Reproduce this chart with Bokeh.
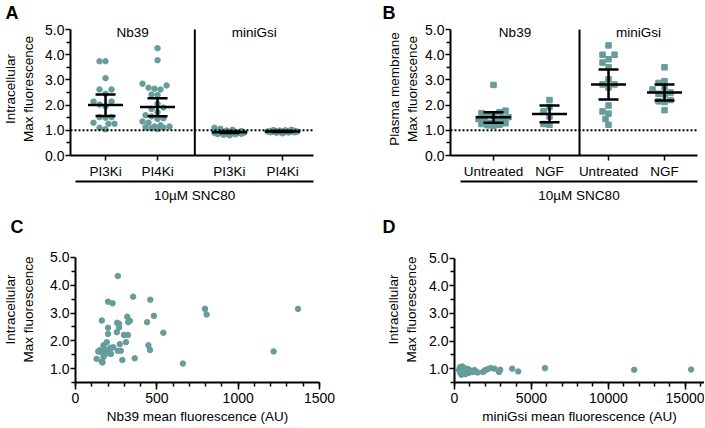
from bokeh.plotting import figure
from bokeh.models import (Range1d, FixedTicker, LinearAxis, Span, Label,
                          CustomJSTickFormatter, PrintfTickFormatter)
from bokeh.layouts import column, row
from bokeh.embed import file_html
from bokeh.resources import INLINE

FONT = "Liberation Sans"
DOT = "#669d9b"

# ---------------- data ----------------
# Panel A: intracellular max fluorescence
a_groups = ["Nb39", "miniGsi"]
a_cats = ["PI3Ki", "PI4Ki", "PI3Ki", "PI4Ki"]
a_nb39_pi3k = [3.74, 3.74, 3.07, 2.62, 2.62, 2.45, 2.14, 2.14, 2.02, 1.95, 1.52, 1.52,
               1.50, 1.30, 1.26, 1.26, 1.10, 1.04]
a_nb39_pi4k = [4.26, 3.78, 2.85, 2.78, 2.69, 2.65, 2.62, 2.42, 2.40, 2.05, 1.90, 1.85,
               1.72, 1.60, 1.55, 1.48, 1.45, 1.35, 1.30, 1.20, 1.15, 1.15, 1.12, 1.10,
               1.08, 1.05]
a_mini_pi3k = [1.10, 1.06, 1.02, 0.99, 0.97, 0.95, 0.94, 0.93, 0.92, 0.91, 0.90, 0.90,
               0.89, 0.88, 0.87, 0.86, 0.85, 0.84, 0.82, 0.80]
a_mini_pi4k = [1.02, 1.01, 1.00, 0.99, 0.98, 0.97, 0.97, 0.96, 0.96, 0.95, 0.95, 0.94,
               0.94, 0.93, 0.93, 0.92, 0.92, 0.91, 0.90, 0.88]
a_mean = [2.00, 1.92, 0.92, 0.95]
a_lo = [1.57, 1.56, 0.89, 0.93]
a_hi = [2.42, 2.27, 0.95, 0.97]

# Panel B: plasma membrane max fluorescence
b_groups = ["Nb39", "miniGsi"]
b_cats = ["Untreated", "NGF", "Untreated", "NGF"]
b_nb39_unt = [2.80, 1.78, 1.72, 1.68, 1.62, 1.58, 1.52, 1.50, 1.45, 1.42, 1.35, 1.30,
              1.28, 1.25, 1.22, 1.20, 1.18]
b_nb39_ngf = [2.20, 1.92, 1.75, 1.55, 1.25, 1.22]
b_mini_unt = [4.37, 4.00, 4.00, 3.82, 3.69, 3.50, 3.02, 2.82, 2.82, 2.70, 1.98, 1.75,
              1.66, 1.45, 1.22]
b_mini_ngf = [3.50, 2.95, 2.88, 2.70, 2.62, 2.50, 2.45, 2.42, 2.20, 2.15, 2.12, 1.80]
b_mean = [1.52, 1.65, 2.82, 2.50]
b_lo = [1.30, 1.32, 2.22, 2.18]
b_hi = [1.72, 1.98, 3.41, 2.82]

treatment = "10\u00b5M SNC80"

# Panel C: Nb39 mean fluorescence vs intracellular max
c_x = [260, 200, 228, 354, 460, 162, 318, 334, 324, 440, 482, 256, 268, 268, 200, 254,
       200, 298, 322, 540, 192, 310, 272, 172, 448, 214, 232, 458, 180, 154, 182, 212,
       260, 278, 218, 172, 130, 162, 288, 364, 166, 660, 796, 806, 1368, 1218, 150, 140,
       196]
c_y = [4.33, 3.41, 3.35, 3.59, 3.48, 2.73, 2.87, 2.72, 2.67, 2.67, 2.90, 2.65, 2.61,
       2.48, 2.47, 2.31, 2.25, 2.21, 2.21, 2.29, 1.95, 1.95, 1.88, 1.84, 1.84, 1.75,
       1.77, 1.67, 1.70, 1.60, 1.59, 1.62, 1.64, 1.64, 1.53, 1.42, 1.35, 1.25, 1.31,
       1.37, 1.22, 1.18, 3.15, 2.95, 3.15, 1.62, 1.66, 1.62, 1.55]

# Panel D: miniGsi mean fluorescence vs intracellular max
d_x = [300, 350, 380, 420, 450, 480, 500, 520, 560, 600, 620, 650, 700, 720, 760, 800,
       850, 900, 950, 1000, 1100, 1200, 1300, 1400, 1500, 1850, 1980, 2130, 2350, 2600,
       2890, 2970, 3750, 4140, 5880, 11680, 15380]
d_y = [0.95, 1.05, 0.85, 1.00, 0.78, 0.92, 1.08, 0.88, 0.97, 0.83, 1.02, 0.90, 0.95,
       0.80, 1.00, 0.87, 0.93, 0.98, 0.85, 0.90, 0.92, 0.88, 0.95, 0.90, 0.86, 0.88,
       0.94, 0.98, 1.02, 1.00, 0.88, 0.96, 1.00, 0.90, 1.02, 0.96, 0.97]


# ---------------- helpers ----------------
def swarm(vals, xpx, ypx, d=6.0, wmax=17.0):
    n = int(wmax // (d / 2))
    cands = sorted([j * d / 2 for j in range(-n, n + 1)], key=lambda c: (abs(c), c))
    placed = []
    offs = [0.0] * len(vals)
    for i in sorted(range(len(vals)), key=lambda k: vals[k]):
        py = vals[i] * ypx
        best, bestd = None, -1
        for c in cands:
            md = min([((c - qx) ** 2 + (py - qy) ** 2) ** 0.5 for qx, qy in placed] or [1e9])
            if md >= d:
                best = c
                break
            if md > bestd:
                bestd, best = md, c
        placed.append((best, py))
        offs[i] = best / xpx
    return offs


def base_fig(w, h, xr, yr, ml, mr, mt, mb, let, let_dx):
    p = figure(width=w, height=h, x_range=xr, y_range=yr, output_backend="svg",
               toolbar_location=None, min_border_left=ml, min_border_right=mr,
               min_border_top=mt, min_border_bottom=mb)
    p.outline_line_color = None
    p.xgrid.visible = False
    p.ygrid.visible = False
    p.background_fill_color = "white"
    p.border_fill_color = "white"
    # panel letter as the figure title (side panels are not clipped)
    p.title.text = let
    p.title.align = "left"
    p.title.vertical_align = "bottom"
    p.title.offset = let_dx
    p.title.standoff = 0
    p.title.text_font = FONT
    p.title.text_font_size = "18px"
    p.title.text_font_style = "bold"
    p.title.text_color = "black"
    return p


def style_axis(ax, tick_size="14px"):
    ax.axis_line_width = 2
    ax.axis_line_color = "black"
    ax.major_tick_line_width = 1.5
    ax.minor_tick_line_width = 1.5
    ax.major_tick_line_color = "black"
    ax.minor_tick_line_color = "black"
    ax.major_tick_in = 0
    ax.minor_tick_in = 0
    ax.major_label_text_font = FONT
    ax.major_label_text_font_size = tick_size
    ax.major_label_text_color = "black"
    ax.axis_label_text_font = FONT
    ax.axis_label_text_font_style = "normal"
    ax.axis_label_text_font_size = "13.5px"
    ax.axis_label_text_color = "black"


def category_panel(w, h, ml, mr, mt, mb, xr, ytop, pos, divider, cats, groups, series,
                   means, los, his, ylabel, ylab_standoff, marker, glo, ghi, let, let_dx):
    p = base_fig(w, h, xr, Range1d(0, ytop), ml, mr, mt, mb, let, let_dx)
    fw = w - ml - mr
    fh = h - mt - mb
    xpx = fw / (xr.end - xr.start)
    ypx = fh / ytop
    # y axis (line stops at 5.0)
    ya = p.yaxis[0]
    style_axis(ya)
    ya.bounds = (0, 5.0)
    ya.ticker = FixedTicker(ticks=[0, 1, 2, 3, 4, 5],
                            minor_ticks=[0.5, 1.5, 2.5, 3.5, 4.5])
    ya.formatter = PrintfTickFormatter(format="%.1f")
    ya.major_tick_out = 5
    ya.minor_tick_out = 4
    ya.major_label_standoff = 1
    ya.axis_label = ylabel
    ya.axis_label_standoff = ylab_standoff
    # x axis with category labels
    xa = p.xaxis[0]
    style_axis(xa, "13.5px")
    xa.ticker = FixedTicker(ticks=pos)
    xa.major_label_overrides = {pos[i]: cats[i] for i in range(len(pos))}
    xa.major_tick_out = 5
    xa.minor_tick_line_color = None
    xa.major_label_standoff = 3
    # group line + treatment label
    gmid = (glo + ghi) / 2
    ga = LinearAxis(ticker=FixedTicker(ticks=[gmid]),
                    formatter=CustomJSTickFormatter(code="return '%s'" % treatment),
                    bounds=(glo, ghi))
    style_axis(ga, "13.5px")
    ga.major_tick_line_color = None
    ga.minor_tick_line_color = None
    ga.major_label_standoff = 0
    p.add_layout(ga, "below")
    # reference lines
    p.add_layout(Span(location=1.0, dimension="width", line_color="black",
                      line_width=2, line_dash="2 2"))
    p.segment(x0=[divider], y0=[0], x1=[divider], y1=[5.0], line_color="black",
              line_width=2)
    # points
    for i, vals in enumerate(series):
        offs = swarm(vals, xpx, ypx)
        xs = [pos[i] + o for o in offs]
        p.scatter(xs, vals, marker=marker, size=5.5, fill_color=DOT, line_color=DOT)
    # mean + error bars
    mh = 17.5 / xpx
    ch = 10.0 / xpx
    x0, y0, x1, y1 = [], [], [], []
    for i in range(len(pos)):
        x0 += [pos[i] - mh, pos[i] - ch, pos[i] - ch, pos[i]]
        x1 += [pos[i] + mh, pos[i] + ch, pos[i] + ch, pos[i]]
        y0 += [means[i], los[i], his[i], los[i]]
        y1 += [means[i], los[i], his[i], his[i]]
    p.segment(x0=x0, y0=y0, x1=x1, y1=y1, line_color="black", line_width=2.5)
    # group titles (centred over each section, inside the frame)
    mids = [(xr.start + divider) / 2, (divider + xr.end) / 2]
    for g, m in zip(groups, mids):
        p.add_layout(Label(x=m, y=5.0, y_offset=-2.5, text=g, text_font=FONT,
                           text_font_size="13.5px", text_align="center",
                           text_baseline="alphabetic", text_color="black"))
    return p


def scatter_panel(w, h, ml, mr, mt, mb, xr, ytop, xticks, xminor, xs, ys, xlabel,
                  ylab_standoff, let, let_dx):
    p = base_fig(w, h, xr, Range1d(0.5, ytop), ml, mr, mt, mb, let, let_dx)
    ya = p.yaxis[0]
    style_axis(ya)
    ya.bounds = (0.5, 5.0)
    ya.ticker = FixedTicker(ticks=[1, 2, 3, 4, 5],
                            minor_ticks=[0.5, 1.5, 2.5, 3.5, 4.5])
    ya.formatter = PrintfTickFormatter(format="%.1f")
    ya.major_tick_out = 5
    ya.minor_tick_out = 4
    ya.major_label_standoff = 1
    ya.axis_label = "Intracellular\nMax fluorescence"
    ya.axis_label_standoff = ylab_standoff
    xa = p.xaxis[0]
    style_axis(xa)
    xa.ticker = FixedTicker(ticks=xticks, minor_ticks=xminor)
    xa.formatter = PrintfTickFormatter(format="%d")
    xa.major_tick_out = 7
    xa.minor_tick_out = 4
    xa.major_label_standoff = 3
    xa.axis_label = xlabel
    xa.axis_label_standoff = 3
    p.scatter(xs, ys, marker="circle", size=5.5, fill_color=DOT, line_color=DOT)
    return p


# ---------------- panels ----------------
pa = category_panel(350, 214, 70, 37, 22, 59, Range1d(0.333, 4.96), 5.278,
                    [1.0, 1.99, 3.36, 4.37], 2.70, a_cats, a_groups,
                    [a_nb39_pi3k, a_nb39_pi4k, a_mini_pi3k, a_mini_pi4k],
                    a_mean, a_lo, a_hi, "Intracellular\nMax fluorescence", 6,
                    "circle", 0.43, 4.96, "A", -65)
pb = category_panel(355, 214, 100, 8, 22, 59, Range1d(0.232, 4.643), 5.278,
                    [1.0, 2.0, 3.054, 4.054], 2.536, b_cats, b_groups,
                    [b_nb39_unt, b_nb39_ngf, b_mini_unt, b_mini_ngf],
                    b_mean, b_lo, b_hi, "Plasma membrane\nMax fluorescence", 2,
                    "square", 0.41, 4.643, "B", -68)
pc = scatter_panel(350, 213, 69, 31, 22, 45, Range1d(0, 1500), 5.755,
                   [0, 500, 1000, 1500], list(range(0, 1501, 100)), c_x, c_y,
                   "Nb39 mean fluorescence (AU)", 11, "C", -65)
pd_ = scatter_panel(354, 213, 104, 0, 22, 44, Range1d(0, 16250), 5.78,
                    [0, 5000, 10000, 15000], list(range(0, 16001, 1000)), d_x, d_y,
                    "miniGsi mean fluorescence (AU)", 7, "D", -72)

layout = column(row(pa, pb), row(pc, pd_))
with open("out.html", "w", encoding="utf-8") as f:
    f.write(file_html(layout, INLINE))
